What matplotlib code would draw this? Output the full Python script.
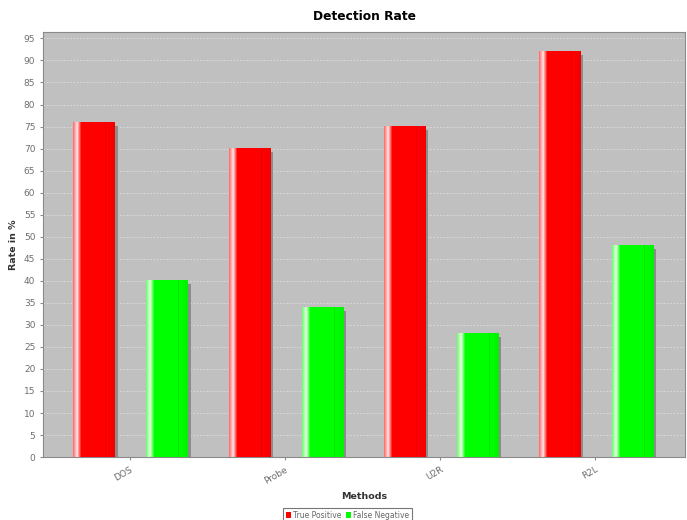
import numpy as np
import matplotlib
matplotlib.use("Agg")
import matplotlib.pyplot as plt
import matplotlib.transforms as mtransforms
from matplotlib.colors import to_rgb
from matplotlib.patches import Patch

# data
methods = ["DOS", "Probe", "U2R", "R2L"]
true_positive = [76, 70, 75, 92]
false_negative = [40, 34, 28, 48]
series_names = ["True Positive", "False Negative"]
series_colors = ["#ff0000", "#00ff00"]

bar_w = 0.265
offsets = [-0.232, 0.238]


def bar_gradient(color, n=400):
    # rough copy of the JFreeChart gradient bar painter look
    c = np.array(to_rgb(color))
    white = np.ones(3)
    stops = [(0.00, 0.6 * c + 0.4 * white),
             (0.10, 0.1 * c + 0.9 * white),
             (0.20, c),
             (0.76, c),
             (0.78, 0.88 * c),
             (0.80, c),
             (1.00, 0.95 * c)]
    t = np.linspace(0, 1, n)
    xs = [s[0] for s in stops]
    img = np.zeros((1, n, 3))
    for k in range(3):
        img[0, :, k] = np.interp(t, xs, [s[1][k] for s in stops])
    return img


fig = plt.figure(figsize=(6.87, 5.20), dpi=100)
ax = fig.add_axes([0.0626, 0.121, 0.935, 0.817])
ax.set_facecolor("#c0c0c0")

x = np.arange(len(methods))
shadow = mtransforms.offset_copy(ax.transData, fig=fig, x=3.5, y=-3.5, units="dots")

for vals, off, col in zip([true_positive, false_negative], offsets, series_colors):
    # shadows
    ax.bar(x + off, vals, width=bar_w, color="#8c8c8c", transform=shadow, zorder=2)
    img = bar_gradient(col)
    for xi, v in zip(x, vals):
        x0 = xi + off - bar_w / 2
        ax.imshow(img, extent=(x0, x0 + bar_w, 0, v), aspect="auto",
                  interpolation="nearest", zorder=3)

ax.set_xlim(-0.561, 3.58)
ax.set_ylim(0, 96.4)
ax.set_yticks(np.arange(0, 96, 5))
ax.set_xticks(x)
ax.set_xticklabels(methods, rotation=30, ha="right", rotation_mode="anchor")
ax.yaxis.grid(True, color="#dedede", linestyle=(0, (2, 2)), linewidth=0.6)
ax.set_axisbelow(True)

for s in ax.spines.values():
    s.set_color("#8a8a8a")
ax.tick_params(colors="#8a8a8a", labelcolor="#6e6e6e", labelsize=6.5, length=2)

ax.set_title("Detection Rate", fontsize=8.8, fontweight="bold", pad=9)
ax.set_ylabel("Rate in %", fontsize=6.8, fontweight="bold", labelpad=4, color="#333333")
ax.set_xlabel("Methods", fontsize=6.8, fontweight="bold", labelpad=5, color="#333333")

handles = [Patch(facecolor=c, edgecolor="none") for c in series_colors]
leg = fig.legend(handles, series_names, loc="lower center", ncol=2,
                 bbox_to_anchor=(0.506, -0.012), fontsize=5.5, frameon=True,
                 fancybox=False, handlelength=0.7, handleheight=0.7,
                 handletextpad=0.3, columnspacing=0.5, borderpad=0.35)
leg.get_frame().set_edgecolor("#555555")
leg.get_frame().set_linewidth(0.8)
for t in leg.get_texts():
    t.set_color("#666666")

fig.savefig("out.png", dpi=100)
